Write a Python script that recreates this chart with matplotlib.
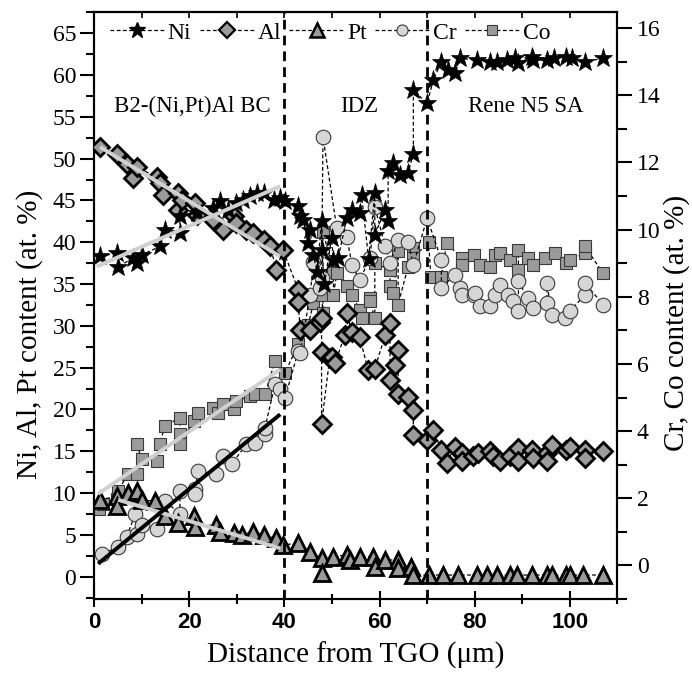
import matplotlib
matplotlib.use("Agg")
import matplotlib.pyplot as plt
from matplotlib.lines import Line2D
from matplotlib.ticker import MultipleLocator

# ---------------- data ----------------
ni_x = [1.2, 4.7, 5.0, 8.2, 8.9, 10.0, 13.8, 14.8, 18.0, 18.0, 21.5, 25.0, 26.4, 28.2, 29.9, 31.3, 32.7, 34.2, 35.6, 37.7, 39.0, 40.1,
        42.9, 43.3, 43.9, 45.0, 45.4, 46.0, 46.9, 47.8, 47.8, 48.4, 49.9, 50.3, 51.3, 53.1, 54.2, 55.8, 56.2, 57.7, 59.0, 59.0,
        61.2, 61.8, 61.8, 62.9, 64.2, 66.0, 67.1, 67.1,
        70.0, 71.3, 73.0, 74.4, 75.8, 76.9, 80.5, 83.2, 84.6, 86.7, 88.5, 89.2, 92.0, 92.3, 95.2, 96.6, 99.3, 100.4, 103.2, 107.0]
ni_y = [38.3, 38.7, 37.1, 38.1, 37.5, 38.5, 39.5, 41.5, 41.1, 43.1, 43.5, 44.1, 44.9, 43.9, 44.7, 45.1, 45.5, 45.9, 45.9, 45.1, 45.3, 44.9,
        44.3, 43.1, 42.7, 39.9, 41.5, 38.5, 36.5, 42.5, 39.1, 35.0, 40.5, 37.9, 38.1, 42.9, 43.9, 43.5, 45.7, 38.0, 45.9, 40.9,
        43.9, 42.5, 48.5, 49.5, 48.1, 48.3, 50.6, 58.2,
        56.6, 59.4, 61.6, 60.6, 60.2, 62.0, 61.8, 61.6, 61.6, 61.8, 62.0, 61.4, 62.2, 61.8, 61.8, 62.0, 62.2, 62.0, 61.6, 62.0]

al_x = [1.2, 4.7, 6.8, 8.2, 8.9, 13.1, 13.8, 14.5, 17.7, 17.7, 18.4, 21.2, 21.5, 25.0, 27.1, 29.3, 29.9, 32.0, 33.4, 35.6, 37.0, 38.3, 39.7,
        42.9, 42.9, 43.3, 45.4, 47.4, 47.8, 47.8, 47.8, 49.5, 49.9, 50.6, 52.7, 53.1, 54.2, 55.8, 57.6, 59.0, 61.2, 62.2, 62.2, 63.3,
        63.9, 63.9, 66.0, 67.1, 67.1,
        69.9, 71.3, 73.0, 74.1, 75.8, 77.3, 77.3, 79.7, 80.8, 83.2, 83.9, 85.3, 87.4, 89.2, 89.2, 92.0, 92.3, 95.2, 95.2, 96.2,
        99.3, 100.0, 103.2, 103.2, 107.0]
al_y = [51.4, 50.6, 49.4, 47.7, 49.0, 47.8, 47.1, 45.7, 45.9, 43.9, 45.1, 44.7, 43.3, 42.7, 41.5, 43.1, 42.3, 41.5, 41.1, 40.3, 39.5, 36.7, 39.1,
        34.3, 32.9, 29.5, 29.5, 30.5, 30.9, 26.9, 18.3, 26.1, 26.3, 25.5, 28.9, 31.5, 29.3, 28.7, 24.7, 24.9, 28.9, 30.3, 23.5, 25.3,
        27.1, 21.9, 21.5, 19.9, 17.0,
        16.4, 17.5, 15.2, 13.6, 15.5, 14.8, 13.8, 14.4, 14.8, 15.0, 14.4, 13.8, 14.4, 15.4, 13.8, 15.2, 14.2, 14.8, 13.8, 15.8,
        15.2, 15.5, 15.2, 14.2, 15.0]

pt_x = [1.2, 4.7, 4.7, 7.1, 8.9, 10.0, 12.8, 14.8, 17.7, 20.9, 21.1, 25.7, 26.4, 29.3, 31.1, 33.4, 35.6, 38.3, 39.7, 42.9,
        45.4, 47.8, 47.8, 50.3, 53.1, 53.8, 55.8, 58.7, 59.0, 61.2, 63.9, 63.9, 66.7, 67.1,
        70.3, 73.4, 76.5, 80.5, 82.5, 84.6, 87.4, 88.9, 92.0, 95.2, 96.2, 99.3, 100.0, 102.8, 107.0]
pt_y = [9.2, 9.6, 8.4, 10.0, 10.2, 9.2, 9.0, 7.2, 6.4, 7.2, 6.0, 6.2, 5.4, 5.2, 5.0, 5.4, 5.0, 4.6, 3.8, 4.0,
        3.0, 2.2, 0.4, 2.4, 2.6, 2.0, 2.4, 2.4, 1.2, 2.0, 2.0, 1.0, 1.2, 0.2,
        0.2, 0.2, 0.2, 0.2, 0.2, 0.2, 0.2, 0.2, 0.2, 0.2, 0.2, 0.2, 0.2, 0.2, 0.2]

cr_x = [1.6, 5.0, 6.8, 8.6, 8.9, 10.0, 13.1, 14.8, 18.0, 18.0, 21.1, 21.1, 21.8, 25.7, 27.1, 28.9, 32.0, 33.8, 35.9, 35.9,
        38.0, 39.0, 40.1, 42.9, 43.3, 45.4, 46.1, 47.4, 47.8, 48.1, 51.0, 53.1, 54.2, 55.8, 58.0, 59.0, 61.2, 62.2, 63.9, 66.0,
        67.1, 70.0, 73.0, 73.0, 75.8, 76.9, 77.3, 79.8, 80.1, 81.1, 83.2, 84.3, 85.3, 87.1, 88.1, 89.2, 89.2, 91.2, 92.3, 95.2,
        95.2, 96.2, 99.0, 100.0, 103.2, 103.2, 107.0]
cr_y = [0.35, 0.54, 0.84, 1.53, 0.94, 1.19, 1.09, 1.93, 1.53, 2.23, 2.28, 2.13, 2.82, 2.72, 3.26, 3.02, 3.61, 3.66, 3.91, 4.10,
        5.39, 5.24, 4.99, 6.38, 6.33, 8.06, 9.05, 8.26, 8.55, 12.76, 10.04, 9.79, 8.95, 8.50, 9.15, 10.68, 9.50, 9.00, 9.69, 9.64,
        8.95, 10.34, 9.10, 8.26, 8.66, 8.26, 8.06, 8.06, 8.11, 7.72, 7.72, 8.06, 8.36, 8.06, 7.86, 7.57, 8.46, 7.96, 7.66, 7.81,
        8.41, 7.47, 7.37, 7.57, 8.06, 8.41, 7.77]

co_x = [0.9, 1.9, 4.7, 5.0, 7.1, 8.9, 8.9, 10.0, 13.1, 13.8, 14.8, 18.0, 18.0, 18.0, 20.9, 21.8, 25.0, 26.1, 27.1, 29.3,
        29.9, 32.7, 33.8, 35.9, 38.0, 40.1, 42.9, 45.0, 46.1, 47.8, 48.1, 48.1, 50.3, 50.3, 51.0, 53.1, 54.2, 55.8, 56.2, 58.0,
        58.0, 59.0, 59.0, 62.2, 62.2, 62.9, 63.9, 63.9, 66.0, 67.1, 67.1, 70.3, 70.8, 73.0, 74.1, 77.3, 77.3, 79.8, 81.1, 83.2,
        84.3, 85.3, 87.4, 89.2, 89.2, 91.2, 92.3, 94.8, 96.9, 99.3, 100.0, 103.2, 103.2, 107.0]
co_y = [1.68, 1.83, 1.98, 2.23, 2.72, 2.72, 3.61, 3.17, 3.12, 3.61, 4.15, 4.40, 3.91, 3.61, 4.30, 4.55, 4.70, 4.55, 4.80, 4.65,
        4.90, 5.04, 5.10, 5.10, 6.08, 5.74, 6.58, 7.17, 7.81, 8.06, 7.52, 9.94, 8.75, 8.06, 8.70, 8.31, 8.06, 7.62, 7.37, 7.96,
        7.86, 7.37, 9.00, 8.80, 8.31, 8.11, 9.35, 7.77, 8.90, 9.45, 9.15, 9.64, 8.60, 8.60, 9.59, 9.15, 8.95, 9.25, 8.95, 8.90,
        9.25, 9.30, 9.10, 9.40, 8.80, 9.15, 8.95, 9.15, 9.30, 9.00, 9.10, 9.30, 9.50, 8.70]

# linear fits in the bond-coat region (end points)
ni_fit_x, ni_fit_y = [0.5, 39.1], [37.1, 46.7]
al_fit_x, al_fit_y = [1.2, 39.1], [51.4, 38.3]
pt_fit_x, pt_fit_y = [5.0, 39.1], [9.2, 3.4]
cr_fit_x, cr_fit_y = [0.8, 39.1], [0.05, 4.5]
co_fit_x, co_fit_y = [0.8, 39.1], [2.13, 5.84]

boundaries = [40, 70]
regions = [("B2-(Ni,Pt)Al BC", 20.6), ("IDZ", 55.8), ("Rene N5 SA", 90.8)]
region_y = 56.3

x_ticks = [0, 20, 40, 60, 80, 100]
left_ticks = list(range(0, 70, 5))
right_ticks = list(range(0, 18, 2))

# ---------------- style ----------------
SERIF = "Liberation Serif"
plt.rcParams["font.family"] = [SERIF, "DejaVu Serif"]

W, H = 692, 674
fig = plt.figure(figsize=(W / 100, H / 100), dpi=100)
L, R, T, B = 94.3, 617.3, 11.7, 599.0
ax = fig.add_axes([L / W, 1 - B / H, (R - L) / W, (B - T) / H])
ax2 = ax.twinx()
ax.set_zorder(ax2.get_zorder() + 1)
ax.patch.set_visible(False)

ax.set_xlim(0, 110)
ax.set_ylim(-2.67, 67.58)
ax2.set_ylim(-1.0, 16.49)

dash = (0, (3, 2))
common = dict(ls=dash, lw=0.9, color="black")

ax2.plot(co_x, co_y, marker="s", ms=9.2, mfc="#9b9b9b", mec="#3a3a3a", mew=0.8, zorder=2, **common)
ax2.plot(cr_x, cr_y, marker="o", ms=10.5, mfc="#d6d6d6", mec="#3a3a3a", mew=0.8, zorder=3, **common)

ax.plot(pt_x, pt_y, marker="^", ms=11.5, mfc="#9b9b9b", mec="black", mew=2.0, zorder=3, **common)
ax.plot(al_x, al_y, marker="D", ms=9.3, mfc="#9b9b9b", mec="black", mew=2.0, zorder=4, **common)
ax.plot(ni_x, ni_y, marker="*", ms=14, mfc="black", mec="black", mew=0.5, zorder=5, **common)

for b in boundaries:
    ax.axvline(b, color="black", lw=2.0, ls=(0, (3.5, 2.2)), zorder=6)

fitc = "#d0d0d0"
ax.plot(ni_fit_x, ni_fit_y, color=fitc, lw=2.8, zorder=7, solid_capstyle="butt")
ax.plot(al_fit_x, al_fit_y, color=fitc, lw=2.8, zorder=7, solid_capstyle="butt")
ax.plot(pt_fit_x, pt_fit_y, color=fitc, lw=2.8, zorder=7, solid_capstyle="butt")
ax.plot(co_fit_x, co_fit_y, color=fitc, lw=2.8, zorder=7, solid_capstyle="butt", transform=ax2.transData)
ax.plot(cr_fit_x, cr_fit_y, color="black", lw=2.8, zorder=7, solid_capstyle="butt", transform=ax2.transData)
ax.set_xlim(0, 110)
ax.set_ylim(-2.67, 67.58)

for txt, xc in regions:
    ax.text(xc, region_y, txt, ha="center", va="center", fontsize=16.5, family=SERIF, zorder=8)

# ticks
ax.set_xticks(x_ticks)
ax.xaxis.set_minor_locator(MultipleLocator(10))
ax.set_yticks(left_ticks)
ax.yaxis.set_minor_locator(MultipleLocator(2.5))
ax2.set_yticks(right_ticks)
ax2.yaxis.set_minor_locator(MultipleLocator(1))

ax.tick_params(axis="x", which="major", direction="inout", length=11, width=1.5, top=False, pad=4)
ax.tick_params(axis="x", which="minor", direction="inout", length=7, width=1.5, top=False)
ax.tick_params(axis="y", which="major", direction="out", length=10, width=1.5, right=False, pad=3)
ax.tick_params(axis="y", which="minor", direction="out", length=6, width=1.5, right=False)
ax2.tick_params(axis="y", which="major", direction="out", length=11, width=1.5, pad=3)
ax2.tick_params(axis="y", which="minor", direction="out", length=7, width=1.5)

sec = ax.secondary_xaxis("top")
sec.set_xticks([10, 20, 30, 40, 50, 60, 70, 80, 90, 100])
sec.tick_params(direction="in", length=4, width=1.2, labeltop=False)
sec.spines["top"].set_linewidth(1.5)

for lab in ax.get_xticklabels():
    lab.set_family("Liberation Sans")
    lab.set_fontweight("bold")
    lab.set_fontsize(16)
for lab in ax.get_yticklabels() + ax2.get_yticklabels():
    lab.set_family(SERIF)
    lab.set_fontsize(17)

for a in (ax, ax2):
    for s in a.spines.values():
        s.set_linewidth(1.5)

ax.set_xlabel("Distance from TGO (\u03bcm)", fontsize=21, family=SERIF)
ax.xaxis.set_label_coords(0.5, -0.073)
ax.set_ylabel("Ni, Al, Pt content (at. %)", fontsize=21, family=SERIF)
ax.yaxis.set_label_coords(-0.098, 0.45)
ax2.set_ylabel("Cr, Co content (at. %)", fontsize=21, family=SERIF, rotation=90)
ax2.yaxis.set_label_coords(1.087, 0.47)

# legend
hs = [
    Line2D([], [], ls=dash, lw=0.9, color="black", marker="*", ms=12, mfc="black", mec="black"),
    Line2D([], [], ls=dash, lw=0.9, color="black", marker="D", ms=8, mfc="#9b9b9b", mec="black", mew=1.6),
    Line2D([], [], ls=dash, lw=0.9, color="black", marker="^", ms=10, mfc="#9b9b9b", mec="black", mew=1.8),
    Line2D([], [], ls=dash, lw=0.9, color="black", marker="o", ms=8, mfc="#d6d6d6", mec="#3a3a3a", mew=0.8),
    Line2D([], [], ls=dash, lw=0.9, color="black", marker="s", ms=7, mfc="#9b9b9b", mec="#3a3a3a", mew=0.8),
]
leg = ax.legend(hs, ["Ni", "Al", "Pt", "Cr", "Co"], loc="center left", bbox_to_anchor=(0.030, 0.964),
                ncol=5, frameon=False, fontsize=17, handlelength=2.3, handletextpad=0.15,
                columnspacing=0.35, borderpad=0, borderaxespad=0, numpoints=1)
leg.set_zorder(10)

fig.savefig("out.png", dpi=100)
